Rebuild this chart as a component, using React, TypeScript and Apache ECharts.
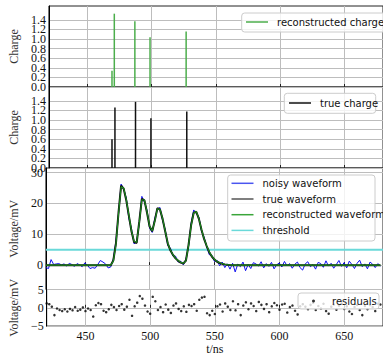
import React, { useEffect, useRef } from "react";
import * as echarts from "echarts";

// ---------- data ----------
const X_MIN = 420;
const X_MAX = 680;
const T0 = 420; // first sample time (ns)
const DT = 2; // sample spacing (ns)

const xTicks = [450, 500, 550, 600, 650];
const chargeTicksA = [0, 0.4, 0.8, 1.2];
const chargeTicksB = [0.2, 0.6, 1.0, 1.4];
const voltTicks = [0, 10, 20, 30];
const resTicks = [-5, 0, 5];

const recoTimes = [469.1, 470.9, 486.9, 498.7, 526.8];
const recoCharges = [0.34, 1.53, 1.37, 1.04, 1.16];
const trueTimes = [469.1, 471.4, 487.4, 499.4, 527.3];
const trueCharges = [0.6, 1.26, 1.38, 1.04, 1.18];

const thresholdValue = 5;

const noisyWave = [
  -0.8, -1.1, 1.8, 0.2, 0.4, 0.5, 0.1, 0.4, -0.3, 0.6, 0.2, -0.4, 0.5, 0.1, -0.5, 0.7, 0.0, -1.1, -0.8, -1.0, 0.2, 1.5, 1.0, 0.4, -0.9, -0.6,
  2.0, 7.8, 16.5, 26.3, 24.6, 21.8, 15.1, 11.8, 6.9, 7.6, 13.5, 22.3, 20.4, 17.8, 12.0, 10.6, 15.2, 18.2, 18.7, 14.4,
  11.6, 6.3, 5.6, 3.0, 2.9, 1.0, 1.3, 0.1, 1.9, 6.0, 13.6, 17.9, 16.8, 15.6, 11.0, 9.1, 6.0, 3.4, 3.2, 1.2,
  1.6, -0.2, 1.0, -0.8, 0.4, -1.3,
  0.6, -2.2, 0.3, -0.5, 1.0, -1.8, 0.2, -1.1, 0.8, 0.4, -0.3, 1.1, -0.9, 0.5, -0.4, 0.9, -1.2, 0.1, 0.7, -0.6,
  1.2, -0.2, 0.5, -1.0, 0.3, 1.0, -0.8, -1.6, 0.4, 1.1, -0.5, 0.2, -1.3, 0.9, 0.5, -0.7, 1.4, -0.3, 0.6, -1.0,
  0.2, 1.5, -0.4, 0.8, -0.9, 1.3, 0.2, -1.1, 0.6, 1.6, -0.5, 0.4, -1.2, 1.0, 0.3, -0.8, 0.5, -0.3,
];

const trueWave = [
  0, 0, 0, 0, 0, 0, 0, 0, 0, 0, 0, 0, 0, 0, 0, 0, 0, 0, 0, 0, 0, 0, 0, 0, 0, 0,
  1.5, 7, 17, 25.8, 24.8, 21, 16, 11, 7.5, 7.2, 14, 21.5, 21, 17, 12.5, 11, 14.5, 18.5, 18, 15,
  11, 7, 4.8, 3.3, 2.2, 1.4, 0.8, 0.5, 1.5, 6.5, 13, 17, 17.3, 15, 11.5, 8.5, 6.2, 4.2, 2.8, 1.8,
  1.1, 0.7, 0.4, 0.25, 0.12, 0.05,
  0, 0, 0, 0, 0, 0, 0, 0, 0, 0, 0, 0, 0, 0, 0, 0, 0, 0, 0, 0,
  0, 0, 0, 0, 0, 0, 0, 0, 0, 0, 0, 0, 0, 0, 0, 0, 0, 0, 0, 0,
  0, 0, 0, 0, 0, 0, 0, 0, 0, 0, 0, 0, 0, 0, 0, 0, 0, 0,
];

const recoWave = [
  0, 0, 0, 0, 0, 0, 0, 0, 0, 0, 0, 0, 0, 0, 0, 0, 0, 0, 0, 0, 0, 0, 0, 0, 0, 0,
  1.3, 6.6, 16.6, 25.4, 25.0, 21.3, 16.2, 11.2, 7.7, 7.4, 13.7, 21.2, 21.1, 17.2, 12.7, 11.1, 14.3, 18.3, 18.1, 15.1,
  11.1, 7.1, 4.9, 3.4, 2.3, 1.5, 0.9, 0.6, 1.4, 6.3, 12.8, 16.9, 17.4, 15.1, 11.6, 8.6, 6.3, 4.3, 2.9, 1.9,
  1.2, 0.8, 0.5, 0.3, 0.15, 0.07,
  0, 0, 0, 0, 0, 0, 0, 0, 0, 0, 0, 0, 0, 0, 0, 0, 0, 0, 0, 0,
  0, 0, 0, 0, 0, 0, 0, 0, 0, 0, 0, 0, 0, 0, 0, 0, 0, 0, 0, 0,
  0, 0, 0, 0, 0, 0, 0, 0, 0, 0, 0, 0, 0, 0, 0, 0, 0, 0,
];

const residuals = [
  1.2, 1.0, 0.3, -2.0, -0.2, -0.6, -0.9, -0.4, -1.0, -0.3,
  -0.7, 0.2, -0.8, -0.5, 0.1, -0.9, -0.2, -0.6, -2.4, 0.7,
  1.3, 1.0, -0.8, -1.2, -0.4, 0.8, 0.2, -0.6, 0.5, 1.0,
  -0.5, 0.3, 2.2, -2.2, 0.4, 1.4, 3.2, 2.5, 0.6, -1.0,
  -1.6, 3.0, 1.8, -0.6, 0.2, -1.2, 0.9, -0.5, -1.4, 0.6,
  1.2, -0.3, -0.9, 0.4, -1.1, 0.8, 0.5, 1.0, -0.8, 2.2,
  2.8, 3.0, -1.5, -2.0, -0.8, -1.7, 0.4, 0.9, -1.0, 1.2,
  0.3, -0.6, 1.8, -0.7, 1.0, -2.0, 0.6, 1.5, -0.4, 1.2,
  0.5, -0.9, 1.6, 0.8, -0.3, 1.0, -1.2, 0.4, 1.3, 0.7,
  -0.5, 0.9, 1.1, -1.3, 0.2, 0.6, -0.8, -1.8, 0.4, 1.0,
  0.3, -0.4, 0.8, 1.4, -0.6, 0.5, -0.2, 1.1, -0.9, -1.6,
  0.3, 0.9, -0.5, 0.6, 1.2, -0.3, 0.4, -1.0, -1.7, 0.2,
  0.8, -0.6, -2.0, 0.5, -0.4, 0.7, 0.2, -0.9, 1.1, 0.9,
];

// ---------- helpers ----------
const sampled = (vals: number[]) => vals.map((v, i) => [T0 + DT * i, v]);
const pairs = (xs: number[], ys: number[]) => xs.map((x, i) => [x, ys[i]]);

const SERIF = "Liberation Serif";
const SANS = "DejaVu Sans";
const GRID_COLOR = "#bdbdbd";
const CHARGE_MAX = 1.69;

const grids = [
  { left: 40, width: 344, top: 6, height: 81 },
  { left: 40, width: 344, top: 87, height: 81 },
  { left: 40, width: 344, top: 168, height: 121.5 },
  { left: 40, width: 344, top: 289.5, height: 40.5 },
].map((g) => ({ ...g, show: true, borderColor: "#222", borderWidth: 1, backgroundColor: "transparent" }));

const makeX = (i: number) => ({
  type: "value",
  gridIndex: i,
  min: X_MIN,
  max: X_MAX,
  axisLine: { show: false },
  axisTick: { show: true, inside: true, length: 3, customValues: xTicks, lineStyle: { color: "#222" } },
  axisLabel: {
    show: i === 3,
    customValues: xTicks,
    showMinLabel: true,
    showMaxLabel: true,
    fontFamily: SERIF,
    fontSize: 12,
    color: "#111",
    margin: 4,
  },
  splitLine: { show: true, lineStyle: { color: GRID_COLOR, width: 1 } },
  name: i === 3 ? "t/ns" : "",
  nameLocation: "middle",
  nameGap: 16,
  nameTextStyle: { fontFamily: SERIF, fontSize: 12, color: "#111" },
});

const fmtNum = (digits: number) => (v: number) => {
  const s = Math.abs(v).toFixed(digits);
  return v < 0 ? "\u2212" + s : s;
};

const makeY = (
  i: number,
  min: number,
  max: number,
  ticks: number[],
  digits: number,
  name: string,
  showLine = true
) => ({
  type: "value",
  gridIndex: i,
  position: "left",
  offset: 0,
  min,
  max,
  axisLine: { show: showLine, lineStyle: { color: "#000", width: 1 } },
  axisTick: { show: false, customValues: ticks },
  axisLabel: {
    customValues: ticks,
    showMinLabel: true,
    showMaxLabel: true,
    formatter: fmtNum(digits),
    fontFamily: SERIF,
    fontSize: 12,
    color: "#111",
    margin: 3,
  },
  splitLine: { show: true, lineStyle: { color: GRID_COLOR, width: 1 } },
  name,
  nameLocation: "middle",
  nameRotate: 90,
  nameGap: 20,
  nameTextStyle: { fontFamily: SERIF, fontSize: 12, color: "#333" },
});

const legendText = { fontFamily: SANS, fontSize: 10, color: "#111", lineHeight: 12, padding: [0, 0, 0, 4] };

const legendBox = (x: number, y: number, w: number, h: number) => ({
  type: "rect",
  z: 3,
  shape: { x, y, width: w, height: h, r: 3 },
  style: { fill: "rgba(255,255,255,0.8)", stroke: "#cccccc", lineWidth: 1 },
});

export default function App() {
  const ref = useRef<HTMLDivElement>(null);

  useEffect(() => {
    if (!ref.current) return;
    const chart = echarts.init(ref.current, undefined, { renderer: "svg" });
    chart.setOption({
      animation: false,
      backgroundColor: "#fff",
      grid: grids,
      xAxis: [0, 1, 2, 3].map(makeX),
      yAxis: [
        makeY(0, 0, CHARGE_MAX, chargeTicksA, 1, "Charge"),
        makeY(1, 0, CHARGE_MAX, chargeTicksA, 1, "Charge"),
        makeY(2, -7.9, 31.5, voltTicks, 0, "Voltage/mV"),
        makeY(3, -5, 5, resTicks, 0, "Voltage/mV"),
        makeY(0, 0, CHARGE_MAX, chargeTicksB, 1, "", false),
        makeY(1, 0, CHARGE_MAX, chargeTicksB, 1, "", false),
      ],
      legend: [
        {
          data: ["reconstructed charge"],
          left: 246,
          top: 16,
          padding: 0,
          itemWidth: 22,
          itemHeight: 1.5,
          icon: "rect",
          selectedMode: false,
          textStyle: legendText,
        },
        {
          data: ["true charge"],
          left: 289,
          top: 97,
          padding: 0,
          itemWidth: 22,
          itemHeight: 1.5,
          icon: "rect",
          selectedMode: false,
          textStyle: legendText,
        },
        {
          data: ["noisy waveform", "true waveform", "reconstructed waveform", "threshold"],
          orient: "vertical",
          left: 231.5,
          top: 177.3,
          padding: 0,
          itemGap: 3.7,
          itemWidth: 22,
          itemHeight: 1.5,
          icon: "rect",
          selectedMode: false,
          textStyle: legendText,
        },
        {
          data: ["residuals"],
          left: 312,
          top: 295,
          padding: 0,
          itemWidth: 3,
          itemHeight: 3,
          icon: "circle",
          selectedMode: false,
          textStyle: { ...legendText, padding: [0, 0, 0, 12] },
        },
      ],
      graphic: [
        legendBox(241.7, 13, 150, 19),
        legendBox(284.3, 93.3, 91.4, 20),
        legendBox(227.7, 175, 147.3, 66),
        legendBox(298, 293, 81, 16),
      ],
      series: [
        {
          name: "reconstructed charge",
          type: "bar",
          xAxisIndex: 0,
          yAxisIndex: 0,
          barWidth: 1.5,
          itemStyle: { color: "#4cae4c" },
          data: pairs(recoTimes, recoCharges),
        },
        {
          name: "true charge",
          type: "bar",
          xAxisIndex: 1,
          yAxisIndex: 1,
          barWidth: 1.5,
          itemStyle: { color: "#111" },
          data: pairs(trueTimes, trueCharges),
        },
        {
          name: "threshold",
          type: "line",
          xAxisIndex: 2,
          yAxisIndex: 2,
          showSymbol: false,
          lineStyle: { color: "#6ad9d9", width: 2 },
          itemStyle: { color: "#6ad9d9" },
          data: [
            [X_MIN, thresholdValue],
            [X_MAX, thresholdValue],
          ],
        },
        {
          name: "noisy waveform",
          type: "line",
          xAxisIndex: 2,
          yAxisIndex: 2,
          showSymbol: false,
          lineStyle: { color: "#1010f0", width: 1 },
          itemStyle: { color: "#4a55f0" },
          data: sampled(noisyWave),
        },
        {
          name: "true waveform",
          type: "line",
          xAxisIndex: 2,
          yAxisIndex: 2,
          showSymbol: false,
          lineStyle: { color: "#111", width: 2 },
          itemStyle: { color: "#555" },
          data: sampled(trueWave),
        },
        {
          name: "reconstructed waveform",
          type: "line",
          xAxisIndex: 2,
          yAxisIndex: 2,
          showSymbol: false,
          lineStyle: { color: "#1c8c1c", width: 1.1 },
          itemStyle: { color: "#3aa53a" },
          data: sampled(recoWave),
        },
        {
          name: "residuals",
          type: "scatter",
          xAxisIndex: 3,
          yAxisIndex: 3,
          symbolSize: 2.5,
          itemStyle: { color: "#000" },
          data: sampled(residuals),
        },
      ],
    });
    return () => chart.dispose();
  }, []);

  return (
    <div
      ref={ref}
      style={{ position: "fixed", left: 0, top: 0, width: 383, height: 356, background: "#fff" }}
    />
  );
}
